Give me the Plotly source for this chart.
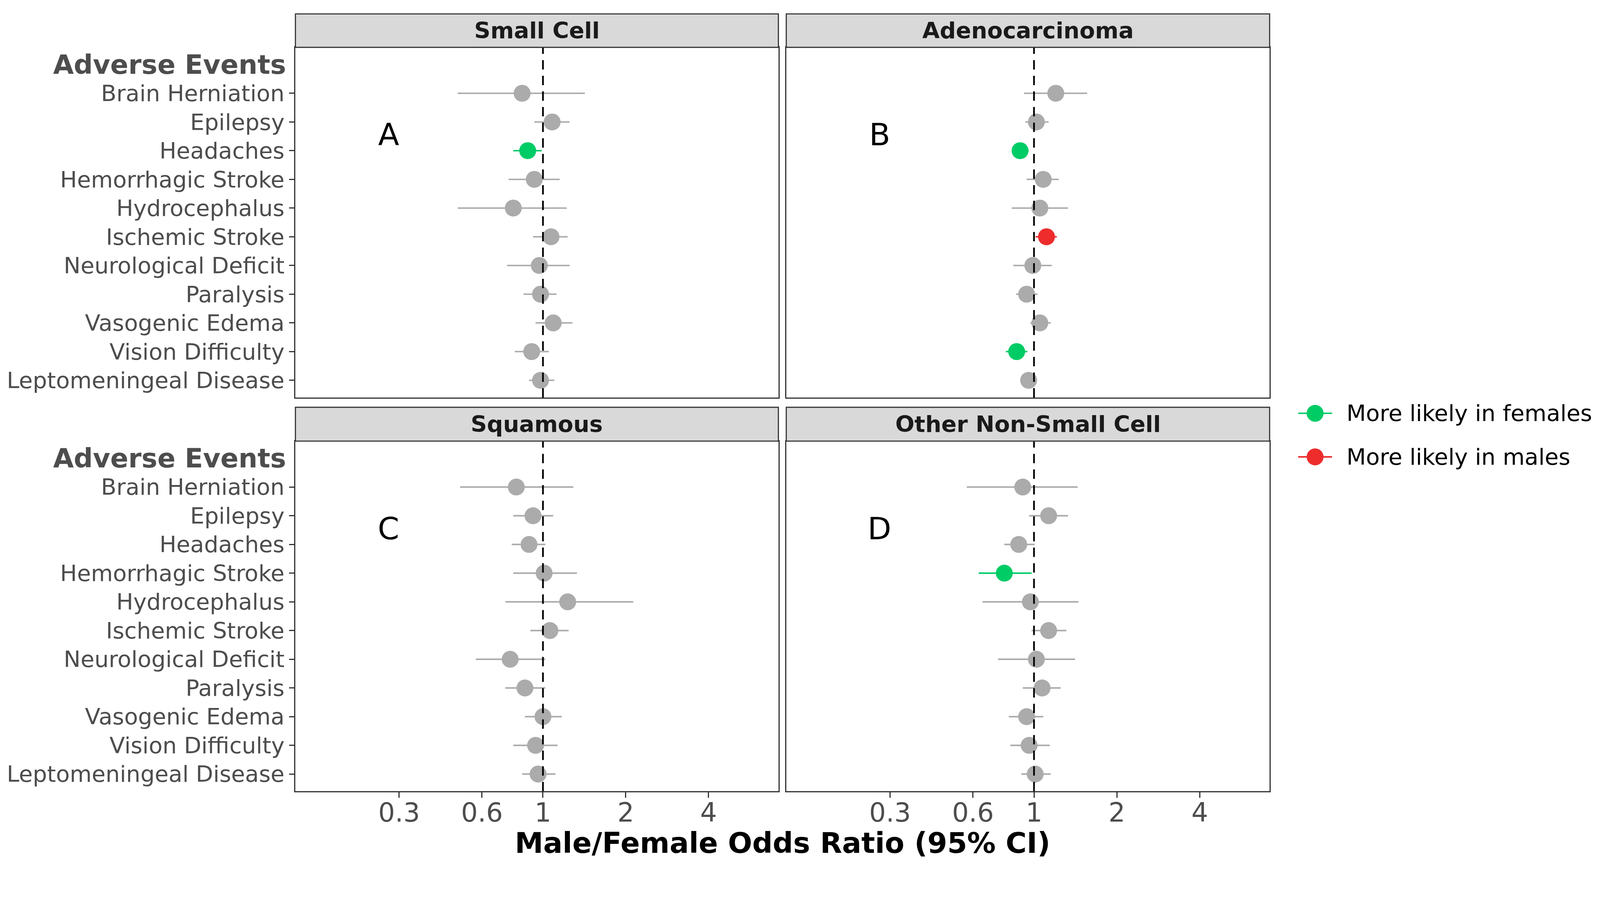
import plotly.graph_objects as go

FONT = "DejaVu Sans"

# ---------------- data ----------------
events = ["Brain Herniation", "Epilepsy", "Headaches", "Hemorrhagic Stroke",
          "Hydrocephalus", "Ischemic Stroke", "Neurological Deficit", "Paralysis",
          "Vasogenic Edema", "Vision Difficulty", "Leptomeningeal Disease"]
header_label = "Adverse Events"
panel_titles = ["Small Cell", "Adenocarcinoma", "Squamous", "Other Non-Small Cell"]
panel_letters = ["A", "B", "C", "D"]
x_tick_vals = [0.3, 0.6, 1, 2, 4]
x_tick_text = ["0.3", "0.6", "1", "2", "4"]
x_title = "Male/Female Odds Ratio (95% CI)"
legend_labels = ["More likely in females", "More likely in males"]

# group: n = not significant, F = more likely in females, M = more likely in males
or_small = [0.84, 1.08, 0.88, 0.93, 0.78, 1.07, 0.97, 0.98, 1.09, 0.91, 0.98]
lo_small = [0.49, 0.93, 0.78, 0.75, 0.49, 0.92, 0.74, 0.85, 0.94, 0.79, 0.89]
hi_small = [1.42, 1.25, 0.99, 1.15, 1.22, 1.23, 1.25, 1.12, 1.28, 1.05, 1.10]
grp_small = ["n", "n", "F", "n", "n", "n", "n", "n", "n", "n", "n"]

or_adeno = [1.20, 1.02, 0.89, 1.08, 1.05, 1.11, 0.99, 0.94, 1.05, 0.865, 0.956]
lo_adeno = [0.92, 0.93, 0.83, 0.94, 0.83, 1.013, 0.84, 0.86, 0.97, 0.79, 0.90]
hi_adeno = [1.56, 1.13, 0.956, 1.23, 1.33, 1.21, 1.16, 1.03, 1.15, 0.946, 1.02]
grp_adeno = ["n", "n", "F", "n", "n", "M", "n", "n", "n", "F", "n"]

or_squam = [0.80, 0.92, 0.89, 1.01, 1.23, 1.06, 0.76, 0.86, 1.00, 0.94, 0.96]
lo_squam = [0.50, 0.78, 0.77, 0.78, 0.73, 0.90, 0.57, 0.73, 0.86, 0.78, 0.84]
hi_squam = [1.29, 1.09, 1.02, 1.33, 2.13, 1.24, 1.02, 1.02, 1.17, 1.13, 1.11]
grp_squam = ["n"] * 11

or_other = [0.91, 1.13, 0.88, 0.78, 0.97, 1.13, 1.02, 1.07, 0.94, 0.96, 1.01]
lo_other = [0.57, 0.96, 0.78, 0.63, 0.65, 0.98, 0.74, 0.91, 0.81, 0.82, 0.90]
hi_other = [1.44, 1.33, 1.005, 0.98, 1.45, 1.31, 1.41, 1.25, 1.08, 1.14, 1.15]
grp_other = ["n", "n", "n", "F", "n", "n", "n", "n", "n", "n", "n"]

panel_data = [
    (or_small, lo_small, hi_small, grp_small),
    (or_adeno, lo_adeno, hi_adeno, grp_adeno),
    (or_squam, lo_squam, hi_squam, grp_squam),
    (or_other, lo_other, hi_other, grp_other),
]

# ---------------- styles / geometry ----------------
COL = {"n": "#ABABAB", "F": "#00CC66", "M": "#EE2C2C"}
LEG_COLS = [COL["F"], COL["M"]]
BORDER = "#333333"
TICKTXT = "#4D4D4D"

# the page is captured with a ~4257/4096 upscale and 8px body margin;
# geometry below is expressed in picture pixels and converted.
F = 4257 / 4096
MARGIN = 8
W = 4096 - 2 * MARGIN
H = 2227 - 2 * MARGIN

def px_x(p):
    return (p / F - MARGIN) / W

def px_y(p):
    return 1 - (p / F - MARGIN) / H

def sz(v):
    return v / F

n_ev = len(events)
ypos = {e: n_ev - 1 - i for i, e in enumerate(events)}   # first event on top
header_y = n_ev                                           # header row above
y_range = [-0.6, n_ev + 0.6]
x_range = [-0.90, 0.856]  # log10 units

xdoms = [[px_x(786), px_x(2071)], [px_x(2092), px_x(3378)]] * 2
ydoms = [[px_y(1058), px_y(126)]] * 2 + [[px_y(2106), px_y(1174)]] * 2
strip_px = [(37, 126), (37, 126), (1084, 1174), (1084, 1174)]

fig = go.Figure()
layout = dict(
    width=W, height=H, margin=dict(l=0, r=0, t=0, b=0),
    paper_bgcolor="white", plot_bgcolor="white", showlegend=False,
    font=dict(family=FONT),
)
shapes = []
annotations = []

for k in range(4):
    sfx = "" if k == 0 else str(k + 1)
    xa, ya = "x" + sfx, "y" + sfx
    orv, lov, hiv, grp = panel_data[k]
    for g in ["n", "F", "M"]:
        idx = [i for i in range(n_ev) if grp[i] == g]
        if not idx:
            continue
        fig.add_trace(go.Scatter(
            x=[orv[i] for i in idx],
            y=[ypos[events[i]] for i in idx],
            mode="markers",
            marker=dict(size=sz(45), color=COL[g], line=dict(width=0)),
            error_x=dict(type="data", symmetric=False,
                         array=[hiv[i] - orv[i] for i in idx],
                         arrayminus=[orv[i] - lov[i] for i in idx],
                         color=COL[g], thickness=sz(4), width=0),
            xaxis=xa, yaxis=ya, hoverinfo="skip",
        ))
    # reference line at OR = 1
    fig.add_trace(go.Scatter(
        x=[1, 1], y=y_range, mode="lines",
        line=dict(color="black", width=sz(4.5), dash="24px,16px"),
        xaxis=xa, yaxis=ya, hoverinfo="skip",
    ))

    bottom = k >= 2
    left = k % 2 == 0
    layout["xaxis" + sfx] = dict(
        type="log", range=x_range, domain=xdoms[k], anchor=ya,
        tickvals=x_tick_vals, ticktext=x_tick_text,
        showticklabels=bottom, ticks="outside" if bottom else "",
        ticklen=sz(14), tickwidth=sz(3), tickcolor=BORDER,
        ticklabelstandoff=-20,
        tickfont=dict(family=FONT, size=sz(70), color=TICKTXT),
        showgrid=False, zeroline=False,
        showline=True, mirror=True, linecolor=BORDER, linewidth=sz(3),
    )
    layout["yaxis" + sfx] = dict(
        range=y_range, domain=ydoms[k], anchor=xa,
        tickvals=[ypos[e] for e in events], ticktext=events,
        showticklabels=left, ticks="outside" if left else "",
        ticklen=sz(14), tickwidth=sz(3), tickcolor=BORDER,
        tickfont=dict(family=FONT, size=sz(60), color=TICKTXT),
        showgrid=False, zeroline=False,
        showline=True, mirror=True, linecolor=BORDER, linewidth=sz(3),
    )

    # strip
    s0, s1 = strip_px[k]
    shapes.append(dict(type="rect", xref="paper", yref="paper",
                       x0=xdoms[k][0], x1=xdoms[k][1], y0=px_y(s1), y1=px_y(s0),
                       fillcolor="#D9D9D9", line=dict(color=BORDER, width=sz(3))))
    annotations.append(dict(text="<b>" + panel_titles[k] + "</b>", xref="paper", yref="paper",
                            x=(xdoms[k][0] + xdoms[k][1]) / 2, y=px_y((s0 + s1) / 2),
                            xanchor="center", yanchor="middle", showarrow=False,
                            font=dict(family=FONT, size=sz(60), color="#1A1A1A")))
    # panel letter
    annotations.append(dict(text=panel_letters[k], xref=xa, yref=ya,
                            x=-0.561, y=8.55, xanchor="center", yanchor="middle",
                            showarrow=False, font=dict(family=FONT, size=sz(82), color="black")))
    # header row label
    if left:
        annotations.append(dict(text="<b>" + header_label + "</b>", xref="paper", yref=ya,
                                x=px_x(763), y=header_y, xanchor="right", yanchor="middle",
                                showarrow=False, font=dict(family=FONT, size=sz(71), color=TICKTXT)))

# x axis title
annotations.append(dict(text="<b>" + x_title + "</b>", xref="paper", yref="paper",
                        x=px_x(2082), y=px_y(2243), xanchor="center", yanchor="middle",
                        showarrow=False, font=dict(family=FONT, size=sz(76), color="black")))

# legend (drawn as layout decoration)
leg_y = [1100, 1216]
for lab, col, yy in zip(legend_labels, LEG_COLS, leg_y):
    shapes.append(dict(type="line", xref="paper", yref="paper",
                       x0=px_x(3454), x1=px_x(3544), y0=px_y(yy), y1=px_y(yy),
                       line=dict(color=col, width=sz(4))))
    shapes.append(dict(type="circle", xref="paper", yref="paper",
                       x0=px_x(3499 - 22.5), x1=px_x(3499 + 22.5),
                       y0=px_y(yy + 22.5), y1=px_y(yy - 22.5),
                       fillcolor=col, line=dict(width=0)))
    annotations.append(dict(text=lab, xref="paper", yref="paper",
                            x=px_x(3580), y=px_y(yy), xanchor="left", yanchor="middle",
                            showarrow=False, font=dict(family=FONT, size=sz(60), color="black")))

layout["shapes"] = shapes
layout["annotations"] = annotations
fig.update_layout(**layout)
fig.write_html("out.html")
